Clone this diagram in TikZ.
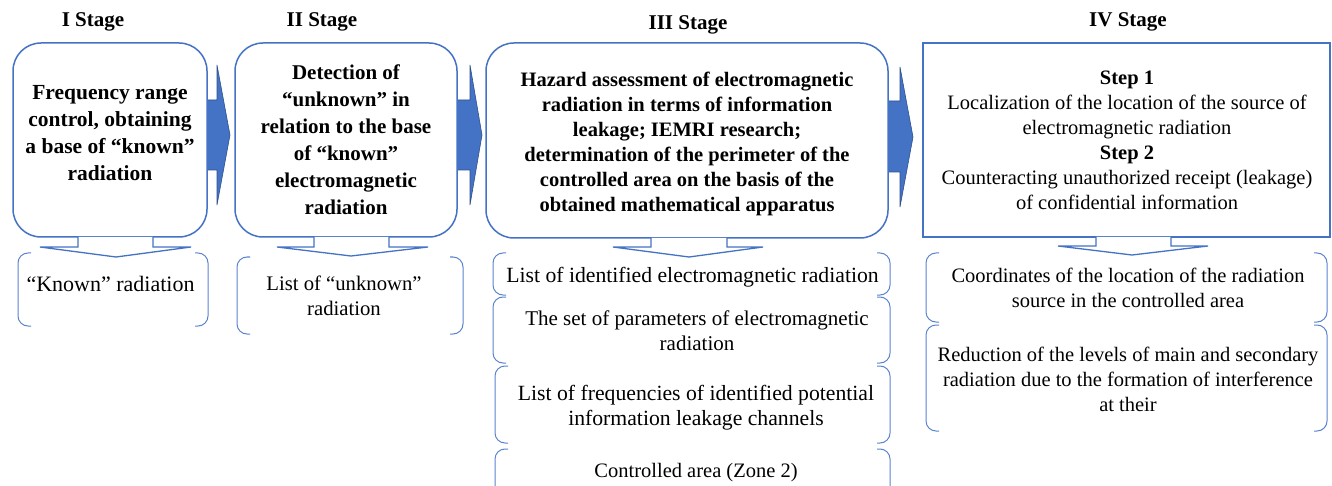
\documentclass[tikz,border=0pt]{standalone}
\usepackage{fontspec}
\setmainfont{Liberation Serif}
\definecolor{ob}{HTML}{4472C4}
\definecolor{obd}{HTML}{2F528F}
\definecolor{obl}{HTML}{5B84CF}
\tikzset{
 stagebox/.style={draw=ob, line width=1.5pt, fill=white},
 rbox/.style={stagebox, rounded corners=28pt},
 btxt/.style={font=\fontsize{#1}{27}\selectfont\bfseries, align=center, inner sep=0pt},
 ntxt/.style={font=\fontsize{#1}{25}\selectfont, align=center, inner sep=0pt},
 lbl/.style={font=\fontsize{21}{23}\selectfont\bfseries, inner sep=0pt},
 blockarrow/.style={fill=ob, draw=obd, line width=0.6pt, line join=miter},
 downarrow/.style={draw=ob, line width=1.3pt, fill=white, line join=miter},
 brk/.style={draw=obl, line width=1pt, rounded corners=10pt},
}
\newcommand\brkpair[4]{%
  \draw[brk] (#1+13,#3) -- (#1,#3) -- (#1,#4) -- (#1+13,#4);
  \draw[brk] (#2-13,#3) -- (#2,#3) -- (#2,#4) -- (#2-13,#4);
}
\begin{document}
\begin{tikzpicture}[x=1pt,y=-1pt]
\clip (0,0) rectangle (1332,486);
\fill[white] (0,0) rectangle (1332,486);

% stage labels
\node[lbl] (l1) at (93,22) {I Stage};
\node[lbl] (l2) at (322,22) {II Stage};
\node[lbl] (l3) at (688,25) {III Stage};
\node[lbl] (l4) at (1128,22) {IV Stage};

% block arrows
\filldraw[blockarrow] (206,100) -- (217,100) -- (217,65) -- (230,135) -- (217,205) -- (217,170) -- (206,170) -- cycle;
\filldraw[blockarrow] (456,100) -- (470,100) -- (470,65) -- (482,135) -- (470,205) -- (470,170) -- (456,170) -- cycle;
\filldraw[blockarrow] (888,101) -- (900,101) -- (900,67) -- (913,137) -- (900,207) -- (900,172) -- (888,172) -- cycle;

% stage boxes
\node[rbox, minimum width=194pt, minimum height=194pt] (s1) at (110,140) {};
\node[rbox, minimum width=222pt, minimum height=194pt] (s2) at (346,140) {};
\node[rbox, minimum width=402pt, minimum height=195pt] (s3) at (687,140.5) {};
\node[stagebox, minimum width=407pt, minimum height=194pt] (s4) at (1126.5,140) {};

\node[btxt=21.5] (t1) at (110,133) {Frequency range\\control, obtaining\\a base of “known”\\radiation};
\node[btxt=21] (t2) at (346,140) {Detection of\\“unknown” in\\relation to the base\\of “known”\\electromagnetic\\radiation};
\node[btxt=20.5, font=\fontsize{20.5}{25}\selectfont\bfseries] (t3) at (687,143.5) {Hazard assessment of electromagnetic\\radiation in terms of information\\leakage; IEMRI research;\\determination of the perimeter of the\\controlled area on the basis of the\\obtained mathematical apparatus};
\node[ntxt=20.5] (t4) at (1127,140.5) {\textbf{Step 1}\\Localization of the location of the source of\\electromagnetic radiation\\\textbf{Step 2}\\Counteracting unauthorized receipt (leakage)\\of confidential information};

% down arrows
\filldraw[downarrow] (78,237) -- (78,247) -- (40,247) -- (116,257) -- (191,247) -- (153,247) -- (153,237);
\filldraw[downarrow] (314,237) -- (314,247) -- (277,247) -- (351,256) -- (428,247) -- (389,247) -- (389,237);
\filldraw[downarrow] (651,238) -- (651,247) -- (613,247) -- (689,257) -- (763,247) -- (727,247) -- (727,238);
\filldraw[downarrow] (1096,237) -- (1096,246) -- (1058,246) -- (1132,255) -- (1208,246) -- (1171,246) -- (1171,237);

% brackets
\brkpair{18}{208}{253}{326}
\brkpair{237}{463}{257}{334}
\brkpair{493}{890}{253}{295}
\brkpair{493}{890}{297}{363}
\brkpair{495}{890}{366}{443}
\brkpair{495}{890}{449}{505}
\brkpair{926}{1327}{253}{322}
\brkpair{926}{1327}{325}{431}

% bracket texts
\node[ntxt=22] (k1) at (110.5,284) {“Known” radiation};
\node[ntxt=20.7] (k2) at (344,296) {List of “unknown”\\radiation};
\node[ntxt=21.7] (k3) at (692.5,277) {List of identified electromagnetic radiation};
\node[ntxt=21] (k4) at (697,331) {The set of parameters of electromagnetic\\radiation};
\node[ntxt=21.7] (k5) at (696,407.5) {List of frequencies of identified potential\\information leakage channels};
\node[ntxt=20.5] (k6) at (696,472.5) {Controlled area (Zone 2)};
\node[ntxt=20.5] (k7) at (1128,288) {Coordinates of the location of the radiation\\source in the controlled area};
\node[ntxt=20.5] (k8) at (1128,379) {Reduction of the levels of main and secondary\\radiation due to the formation of interference\\at their};
\end{tikzpicture}
\end{document}
